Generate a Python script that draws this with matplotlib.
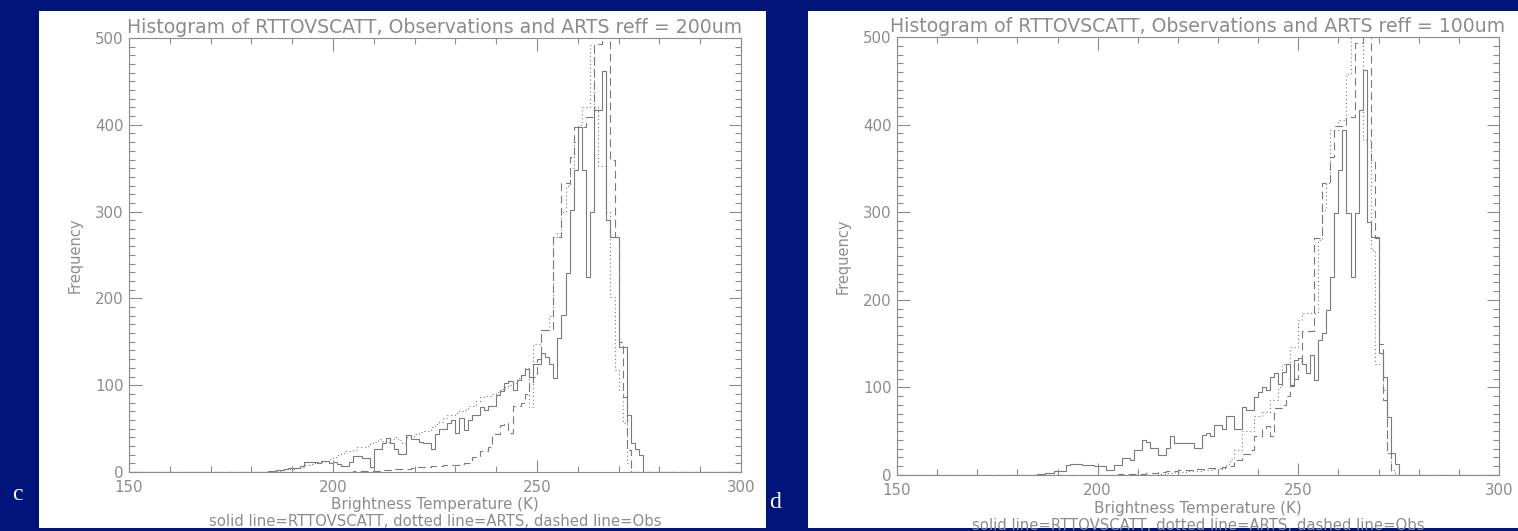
import numpy as np
import matplotlib
matplotlib.use("Agg")
import matplotlib.pyplot as plt
from matplotlib.patches import Rectangle
from matplotlib.ticker import MultipleLocator

# histogram bins: 1 K wide, first bin starts at 180 K, data padded with zeros to 150-300
bin_start = 180

# panel c (reff = 200um)
rttov_c = [0, 0, 0, 0, 1, 1, 2, 2, 3, 5,
           5, 5, 7, 11, 11, 11, 10, 13, 13, 10,
           12, 9, 7, 7, 12, 18, 18, 16, 16, 6,
           27, 27, 33, 39, 33, 26, 21, 21, 43, 38,
           38, 35, 33, 33, 27, 44, 50, 50, 56, 60,
           45, 62, 48, 60, 66, 66, 75, 72, 76, 76,
           89, 93, 102, 105, 94, 106, 112, 119, 110, 125,
           125, 137, 133, 125, 108, 154, 181, 229, 302, 348,
           398, 348, 225, 300, 417, 417, 462, 290, 271, 271,
           144, 144, 66, 33, 26, 20]
arts_c = [0, 0, 0, 0, 0, 0, 1, 2, 3, 3,
          4, 5, 6, 8, 9, 10, 11, 12, 13, 15,
          17, 20, 22, 24, 24, 25, 29, 29, 30, 33,
          35, 38, 36, 35, 38, 40, 37, 33, 40, 42,
          44, 46, 47, 47, 52, 55, 58, 62, 66, 66,
          68, 70, 72, 76, 76, 82, 86, 87, 87, 90,
          92, 96, 98, 100, 103, 108, 112, 120, 75, 148,
          148, 164, 164, 180, 271, 275, 300, 330, 350, 380,
          400, 420, 420, 492, 420, 352, 352, 300, 202, 118,
          94, 56, 10, 0, 0, 0]

# panel d (reff = 100um)
rttov_d = [0, 0, 0, 0, 0, 1, 1, 2, 2, 4,
           4, 4, 11, 12, 12, 12, 11, 11, 11, 10,
           10, 10, 6, 6, 11, 11, 19, 19, 17, 29,
           29, 40, 38, 31, 31, 23, 23, 31, 44, 36,
           36, 37, 37, 36, 31, 31, 46, 48, 44, 57,
           57, 53, 67, 67, 52, 52, 78, 74, 74, 89,
           95, 100, 97, 112, 116, 104, 118, 127, 103, 131,
           133, 127, 116, 137, 108, 154, 162, 188, 226, 299,
           348, 394, 299, 226, 299, 417, 462, 289, 272, 272,
           139, 112, 66, 25, 13, 0]
arts_d = [0, 0, 0, 0, 0, 0, 0, 0, 0, 0,
          0, 0, 0, 0, 0, 0, 0, 0, 0, 0,
          0, 0, 0, 0, 0, 0, 0, 0, 0, 0,
          0, 0, 0, 0, 0, 1, 1, 2, 2, 3,
          3, 3, 4, 4, 5, 5, 6, 6, 6, 7,
          7, 8, 12, 18, 29, 29, 50, 50, 50, 67,
          67, 72, 72, 86, 86, 100, 127, 127, 146, 146,
          177, 185, 185, 185, 185, 268, 302, 333, 394, 394,
          405, 405, 458, 530, 530, 530, 382, 382, 257, 127,
          127, 97, 25, 6, 0, 0]

# observations (same in both panels)
obs = [0, 0, 0, 0, 0, 0, 0, 0, 0, 0,
       0, 0, 0, 0, 0, 0, 0, 0, 0, 0,
       0, 0, 0, 0, 0, 1, 1, 1, 1, 1,
       1, 1, 2, 2, 2, 3, 3, 4, 4, 5,
       6, 6, 6, 6, 7, 7, 7, 8, 8, 8,
       8, 9, 10, 10, 17, 17, 24, 24, 29, 44,
       44, 54, 56, 45, 76, 76, 80, 90, 102, 110,
       130, 164, 164, 164, 271, 271, 333, 333, 363, 398,
       398, 398, 409, 409, 493, 493, 530, 530, 360, 271,
       150, 86, 25, 0, 0, 0]

titles = ["Histogram of RTTOVSCATT, Observations and ARTS reff = 200um",
          "Histogram of RTTOVSCATT, Observations and ARTS reff = 100um"]
panel_letters = ["c", "d"]
xlabel = "Brightness Temperature (K)"
ylabel = "Frequency"
note = "solid line=RTTOVSCATT, dotted line=ARTS, dashed line=Obs"

navy = "#00147a"
txt = "#8c8c8c"
line_c = "#7a7a7a"
W, H = 1518, 531


def frac(x, y):
    return x / W, 1 - y / H


def pad_series(vals):
    # zeros before 180 K and after the last bin, up to 300 K
    v = np.array(vals, dtype=float)
    left = np.zeros(bin_start - 150)
    right = np.zeros(300 - bin_start - len(v))
    return np.concatenate([left, v, right])


edges = np.arange(150, 301)

fig = plt.figure(figsize=(W / 100, H / 100), dpi=100, facecolor=navy)

# white slide panels
for (x0, x1) in [(39, 766), (808, 1518)]:
    fx0, fy0 = frac(x0, 528)
    fx1, fy1 = frac(x1, 11)
    fig.add_artist(Rectangle((fx0, fy0), fx1 - fx0, fy1 - fy0,
                             transform=fig.transFigure, facecolor="white",
                             edgecolor="none", zorder=0))

# axes boxes in pixels: left, top, right, bottom
boxes = [(129, 38, 741, 472), (897, 37, 1499, 475)]
series = [(rttov_c, arts_c), (rttov_d, arts_d)]
letter_pos = [(17, 495), (775, 503)]

for i, (l, t, r, b) in enumerate(boxes):
    fx0, fy0 = frac(l, b)
    fx1, fy1 = frac(r, t)
    ax = fig.add_axes([fx0, fy0, fx1 - fx0, fy1 - fy0])
    ax.set_facecolor("white")

    rt, ar = series[i]
    ax.stairs(pad_series(rt), edges, baseline=None, color=line_c, lw=0.8)
    ax.stairs(pad_series(ar), edges, baseline=None, color=line_c, lw=0.8,
              linestyle=(0, (1, 2.5)))
    ax.stairs(pad_series(obs), edges, baseline=None, color=line_c, lw=0.8,
              linestyle=(0, (7, 4)))

    ax.set_xlim(150, 300)
    ax.set_ylim(0, 500)
    ax.xaxis.set_major_locator(MultipleLocator(50))
    ax.xaxis.set_minor_locator(MultipleLocator(10))
    ax.yaxis.set_major_locator(MultipleLocator(100))
    ax.yaxis.set_minor_locator(MultipleLocator(10))
    ax.tick_params(which="both", direction="in", top=True, right=True,
                   color=txt, width=0.8, labelcolor=txt, labelsize=10.8)
    ax.tick_params(which="major", length=9)
    ax.tick_params(which="minor", length=4.5)
    ax.tick_params(axis="x", pad=6)
    ax.tick_params(axis="y", pad=4)
    for s in ax.spines.values():
        s.set_color(txt)
        s.set_linewidth(0.8)

    ax.set_title(titles[i], color=txt, fontsize=13.6, pad=3.5)
    ax.annotate(xlabel, xy=(0.5, 0), xycoords="axes fraction",
                xytext=(0, -33 * 0.72), textcoords="offset points",
                ha="center", va="center", color=txt, fontsize=10.9)
    ax.annotate(note, xy=(0.5, 0), xycoords="axes fraction",
                xytext=(0, -50 * 0.72), textcoords="offset points",
                ha="center", va="center", color=txt, fontsize=10.7)
    ax.annotate(ylabel, xy=(0, 0.5), xycoords="axes fraction",
                xytext=(-54 * 0.72, 0), textcoords="offset points",
                ha="center", va="center", rotation=90, color=txt, fontsize=10.5)

    lx, ly = frac(*letter_pos[i])
    fig.text(lx, ly, panel_letters[i], color="white", fontsize=17,
             family="Liberation Serif", ha="center", va="center")

fig.savefig("out.png", dpi=100, facecolor=fig.get_facecolor())
